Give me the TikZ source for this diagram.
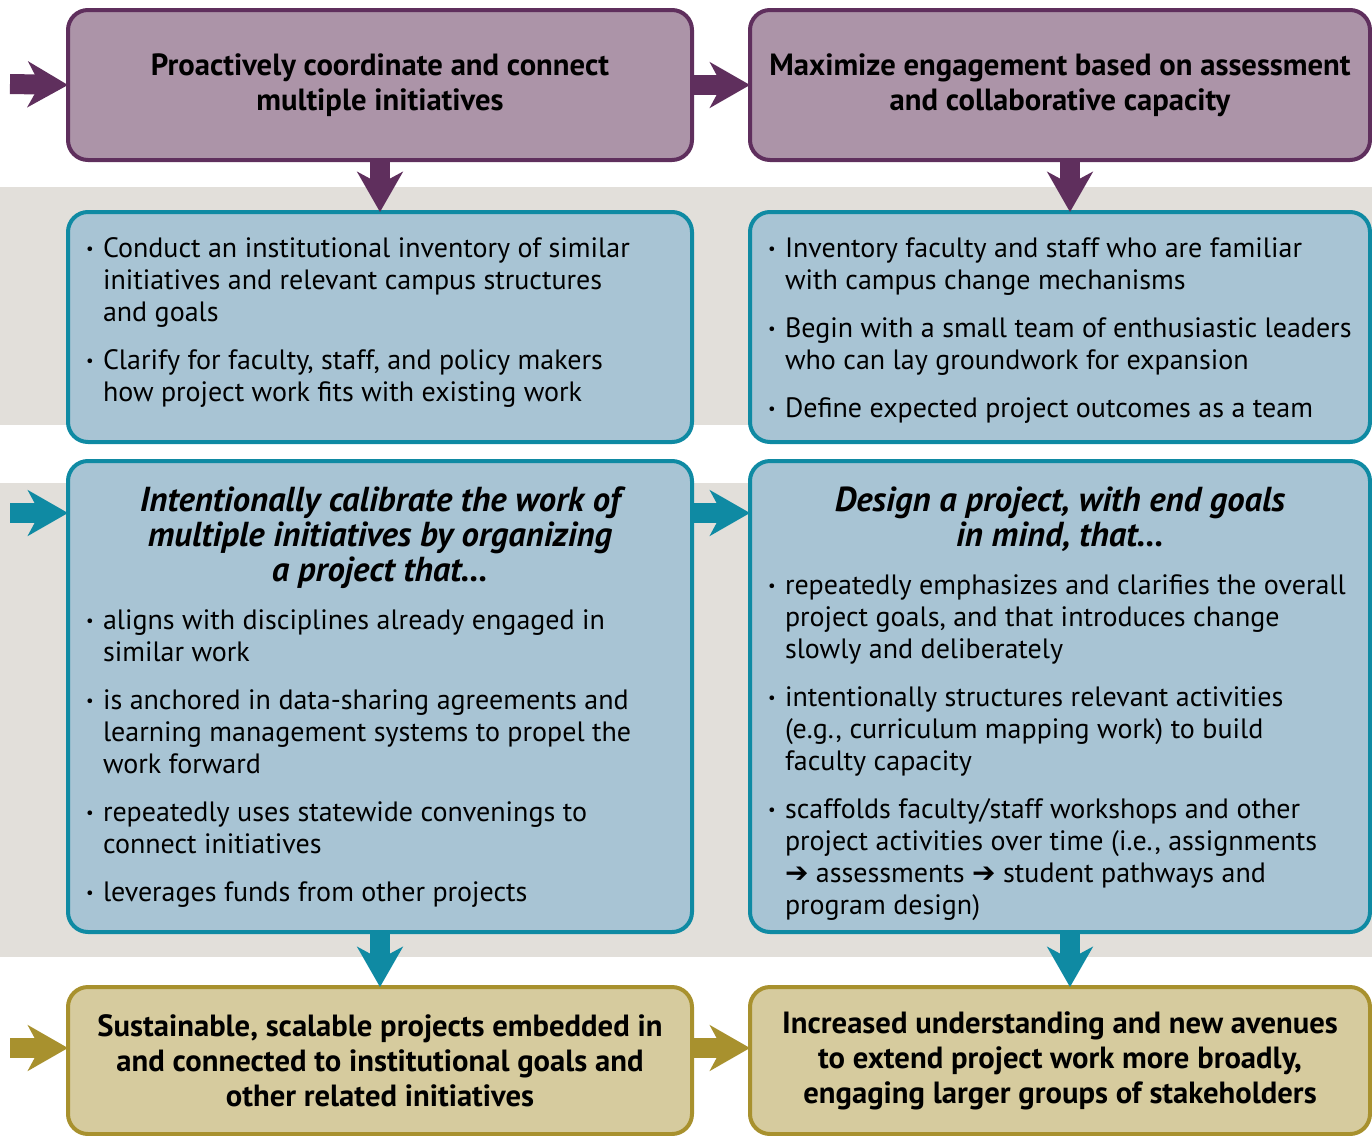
\documentclass[tikz,border=0pt]{standalone}
\usepackage{fontspec}
\setmainfont{PT Sans}
\newfontfamily\symfont{DejaVu Sans}
\usetikzlibrary{arrows.meta}

\definecolor{plumline}{HTML}{5F2F5D}
\definecolor{plumfill}{HTML}{AC94A8}
\definecolor{tealline}{HTML}{0F8AA3}
\definecolor{tealfill}{HTML}{A8C4D4}
\definecolor{goldline}{HTML}{A8912E}
\definecolor{goldfill}{HTML}{D6CB9E}
\definecolor{bandgrey}{HTML}{E2DFDA}

\newcommand{\headfont}{\bfseries\fontsize{23}{26.25}\selectfont}
\newcommand{\bodyfont}{\fontsize{21}{24}\selectfont}
\newcommand{\bul}{\par\hangindent=12.75pt\hangafter=1\noindent
  \makebox[12.75pt][l]{\raisebox{.12em}{\scalebox{.6}{\textbullet}}}}
\newcommand{\steps}[3]{\parbox[c][#2][t]{#1}{\setlength{\parskip}{12pt}#3}}
\newcommand{\lead}[1]{{\centering\bfseries\itshape\fontsize{26}{26.25}\selectfont #1\par}}
\newcommand{\then}{{\symfont\char"2794}}

\begin{document}
\begin{tikzpicture}[x=0.75pt, y=-0.75pt,
                    >={Stealth[length=30pt,width=34pt,inset=9pt]}]
  \tikzstyle{box}=[draw, line width=3pt, rounded corners=15pt, outer sep=0pt, anchor=north west]
  \tikzstyle{aim}=[box, draw=plumline, fill=plumfill, inner sep=0pt, align=center, font=\headfont]
  \tikzstyle{act}=[box, draw=tealline, fill=tealfill, inner xsep=13.5pt, inner ysep=19.5pt, font=\bodyfont]
  \tikzstyle{goal}=[box, draw=goldline, fill=goldfill, inner sep=0pt, align=center, font=\headfont]
  \tikzstyle{flow}=[->, line width=15pt]

  \useasboundingbox (0,0) rectangle (1372,1136);
  \fill[bandgrey] (0,187) rectangle (1372,425);
  \fill[bandgrey] (0,483) rectangle (1372,957);

  % aims
  \node[aim, minimum width=468pt, minimum height=112.5pt] (0) at (68,10)
    {Proactively coordinate and connect\\multiple initiatives};
  \node[aim, minimum width=465pt, minimum height=112.5pt] (1) at (750,10)
    {Maximize engagement based on assessment\\and collaborative capacity};

  % first steps
  \node[act] (2) at (68,212) {\steps{441pt}{133.5pt}{%
    \bul Conduct an institutional inventory of similar\\initiatives and relevant campus structures\\and goals
    \bul Clarify for faculty, staff, and policy makers\\how project work fits with existing work}};
  \node[act] (3) at (750,212) {\steps{438pt}{133.5pt}{%
    \bul Inventory faculty and staff who are familiar\\with campus change mechanisms
    \bul Begin with a small team of enthusiastic leaders\\who can lay groundwork for expansion
    \bul Define expected project outcomes as a team}};

  % project design
  \node[act] (4) at (68,461) {\steps{441pt}{314.25pt}{%
    \lead{Intentionally calibrate the work of\\multiple initiatives by organizing\\a project that…}
    \bul aligns with disciplines already engaged in\\similar work
    \bul is anchored in data-sharing agreements and\\learning management systems to propel the\\work forward
    \bul repeatedly uses statewide convenings to\\connect initiatives
    \bul leverages funds from other projects}};
  \node[act] (5) at (750,461) {\steps{438pt}{314.25pt}{%
    \lead{Design a project, with end goals\\in mind, that…}
    \bul repeatedly emphasizes and clarifies the overall\\project goals, and that introduces change\\slowly and deliberately
    \bul intentionally structures relevant activities\\(e.g., curriculum mapping work) to build\\faculty capacity
    \bul scaffolds faculty/staff workshops and other\\project activities over time (i.e., assignments\\\then{} assessments \then{} student pathways and\\program design)}};

  % outcomes
  \node[goal, minimum width=468pt, minimum height=110.25pt] (6) at (68,987)
    {Sustainable, scalable projects embedded in\\and connected to institutional goals and\\other related initiatives};
  \node[goal, minimum width=465pt, minimum height=110.25pt] (7) at (750,987)
    {Increased understanding and new avenues\\to extend project work more broadly,\\engaging larger groups of stakeholders};

  \coordinate (a0) at (10,84);
  \coordinate (a4) at (10,513);
  \coordinate (a6) at (10,1048);

  \path[flow]
      (a0) edge[plumline] (0.west)
      (0)  edge[plumline] (1)
           edge[plumline] (2)
      ([xshift=7.5pt]1.south) edge[plumline] ([xshift=7.5pt]3.north)
      (a4) edge[tealline] (4.west |- a4)
      (4.east |- a4) edge[tealline] (5.west |- a4)
      (4)  edge[tealline] (6)
      ([xshift=7.5pt]5.south) edge[tealline] ([xshift=7.5pt]7.north)
      (a6) edge[goldline] (6.west |- a6)
      (6.east |- a6) edge[goldline] (7.west |- a6);

\end{tikzpicture}
\end{document}
